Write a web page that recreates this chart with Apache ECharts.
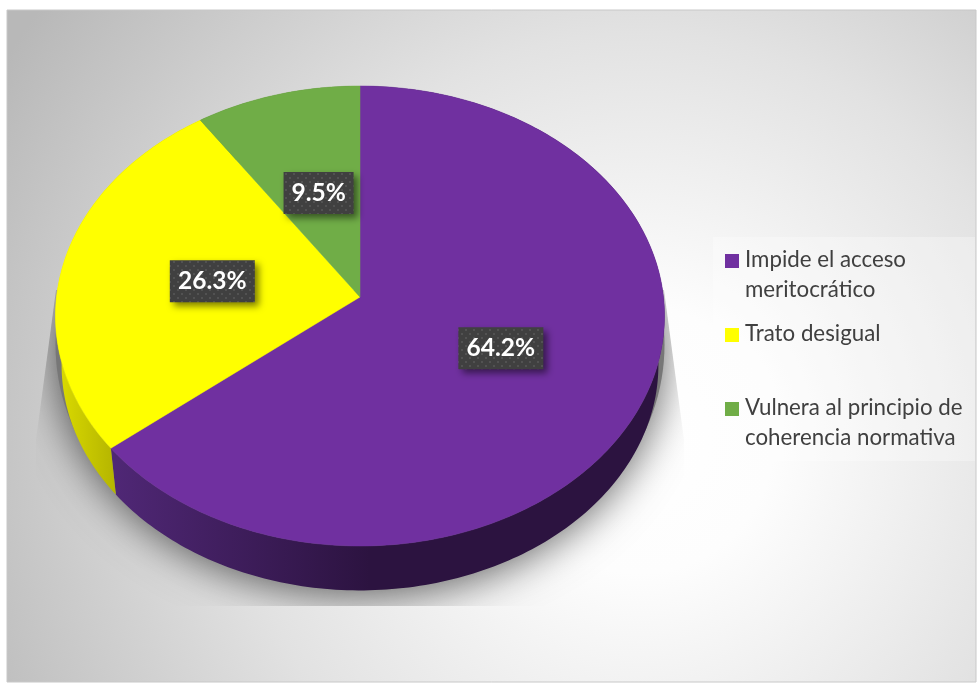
<!DOCTYPE html>
<html><head><meta charset="utf-8">
<style>html,body{margin:0;padding:0;background:#fff}#c{width:978px;height:684px}</style>
<script src="https://cdn.jsdelivr.net/npm/echarts@6/dist/echarts.min.js"></script>
</head><body><div id="c"></div>
<script>
const categories = ["Impide el acceso\nmeritocrático", "Trato desigual", "Vulnera al principio de\ncoherencia normativa"];
const values = [64.2, 26.3, 9.5];
const topColors = ["#7030a0", "#ffff00", "#70ad47"];
const wallStops = [["#4f2775", "#2c1340"], ["#d8d800", "#b4b400"], ["#4f7a32", "#4f7a32"]];
const wallRange = [[116, 370], [62, 116], [200, 360]];
const legendRows = [260, 334, 408];

// perspective projection of a unit disc on the ellipse seen in the picture
const G = {cx: 360, cy: 316, rx: 304.5, ry: 230, apexDrop: 19, depth: 49, shrink: 0.98};
const k = -G.apexDrop / G.ry;
const a = G.rx * Math.sqrt(1 - k * k);
function project(t, deg, lower) {
  const th = deg * Math.PI / 180, u = t * Math.sin(th), v = -t * Math.cos(th);
  const w = 1 + k * v;
  const X = a * u / w, Y = (G.ry * v - G.apexDrop) / w;
  return lower ? [G.cx + G.shrink * X, G.cy + G.depth + G.shrink * Y] : [G.cx + X, G.cy + Y];
}
const total = values.reduce((s, v) => s + v, 0);
function angles(i) {
  let s = 0; for (let j = 0; j < i; j++) s += values[j];
  return [s / total * 360, (s + values[i]) / total * 360];
}
function arc(from, to, lower) {
  const pts = [], n = Math.max(2, Math.ceil(to - from));
  for (let i = 0; i <= n; i++) pts.push(project(1, from + (to - from) * i / n, lower));
  return pts;
}
const dotCanvas = document.createElement('canvas');
dotCanvas.width = dotCanvas.height = 8;
(function () {
  const c = dotCanvas.getContext('2d');
  c.fillStyle = '#404040'; c.fillRect(0, 0, 8, 8);
  c.fillStyle = '#525252'; c.fillRect(1, 1, 2, 2); c.fillRect(5, 5, 2, 2);
})();
const labelFont = 'bold 24.5px Lato';
const meas = document.createElement('canvas').getContext('2d');

function renderWall(params, api) {
  const i = params.dataIndex, [s, e] = angles(i), ch = [];
  if (i === 0) {
    const ell = [];
    for (let d = 0; d < 360; d += 2) {
      const th = d * Math.PI / 180;
      ell.push([G.cx + G.rx * Math.sin(th), 345 - 245 * Math.cos(th)]);
    }
    ch.push({
      type: 'polygon', shape: {points: ell}, silent: true,
      style: {fill: '#777', shadowBlur: 42, shadowColor: 'rgba(0,0,0,0.6)', shadowOffsetY: 6},
      clipPath: {type: 'polygon', shape: {points: [[56, 290], [36, 440], [36, 606], [684, 606], [684, 440], [664, 290]]}}
    });
  }
  const pts = arc(s, e, false).concat(arc(s, e, true).reverse());
  ch.push({
    type: 'polygon', shape: {points: pts},
    style: {fill: {type: 'linear', global: true, x: wallRange[i][0], y: 0, x2: wallRange[i][1], y2: 0,
      colorStops: [{offset: 0, color: wallStops[i][0]}, {offset: 1, color: wallStops[i][1]}]}}
  });
  return {type: 'group', children: ch};
}
function renderTop(params, api) {
  const i = params.dataIndex, [s, e] = angles(i);
  const pts = [project(0, 0, false)].concat(arc(s, e, false));
  return {type: 'polygon', shape: {points: pts}, style: {fill: topColors[i], stroke: topColors[i], lineWidth: 0.5}};
}
function renderLabel(params, api) {
  const i = params.dataIndex, [s, e] = angles(i);
  const p = project(0.5, (s + e) / 2, false);
  const cx = p[0] + 1.5, cy = p[1] + 1;
  const txt = api.value(0).toFixed(1) + '%';
  meas.font = labelFont;
  const w = Math.round(meas.measureText(txt).width) + 16, h = 42;
  return {type: 'group', children: [
    {type: 'rect', shape: {x: cx - w / 2, y: cy - h / 2, width: w, height: h},
     style: {fill: {image: dotCanvas, repeat: 'repeat'}, shadowBlur: 7, shadowOffsetX: 4, shadowOffsetY: 4, shadowColor: 'rgba(0,0,0,0.5)'}},
    {type: 'text', x: cx, y: cy,
     style: {text: txt, font: labelFont, fill: '#fff', align: 'center', verticalAlign: 'middle'}}
  ]};
}
const legendEls = [{type: 'rect', shape: {x: 713, y: 237, width: 262, height: 224}, style: {fill: 'rgba(255,255,255,0.3)'}}];
categories.forEach((c, i) => {
  const y = legendRows[i];
  legendEls.push({type: 'rect', shape: {x: 725, y: y - 6, width: 14, height: 14}, style: {fill: topColors[i]}});
  legendEls.push({type: 'text', x: 745, y: y - 15,
    style: {text: c, font: '22.3px Lato', lineHeight: 30, fill: '#404040', align: 'left', verticalAlign: 'top'}});
});
const chart = echarts.init(document.getElementById('c'), null, {renderer: 'canvas'});
const dataItems = values.map((v, i) => ({value: v, name: categories[i]}));
chart.setOption({
  animation: false,
  backgroundColor: '#fff',
  graphic: [
    {type: 'rect', z: -10, shape: {x: 7, y: 10, width: 969, height: 672},
     style: {stroke: '#c8c8c8', lineWidth: 1, fill: {type: 'radial', global: true, x: 640, y: 440, r: 740,
       colorStops: [{offset: 0, color: '#ffffff'}, {offset: 0.18, color: '#fdfdfd'}, {offset: 0.55, color: '#e2e2e2'}, {offset: 1, color: '#b8b8b8'}]}}},
    {type: 'group', z: 10, children: legendEls}
  ],
  series: [
    {type: 'custom', name: 'lateral', coordinateSystem: 'none', clip: false, silent: true, z: 2, renderItem: renderWall, data: dataItems},
    {type: 'custom', name: 'sectores', coordinateSystem: 'none', clip: false, silent: true, z: 3, renderItem: renderTop, data: dataItems},
    {type: 'custom', name: 'etiquetas', coordinateSystem: 'none', clip: false, silent: true, z: 4, renderItem: renderLabel, data: dataItems}
  ]
});
</script></body></html>
